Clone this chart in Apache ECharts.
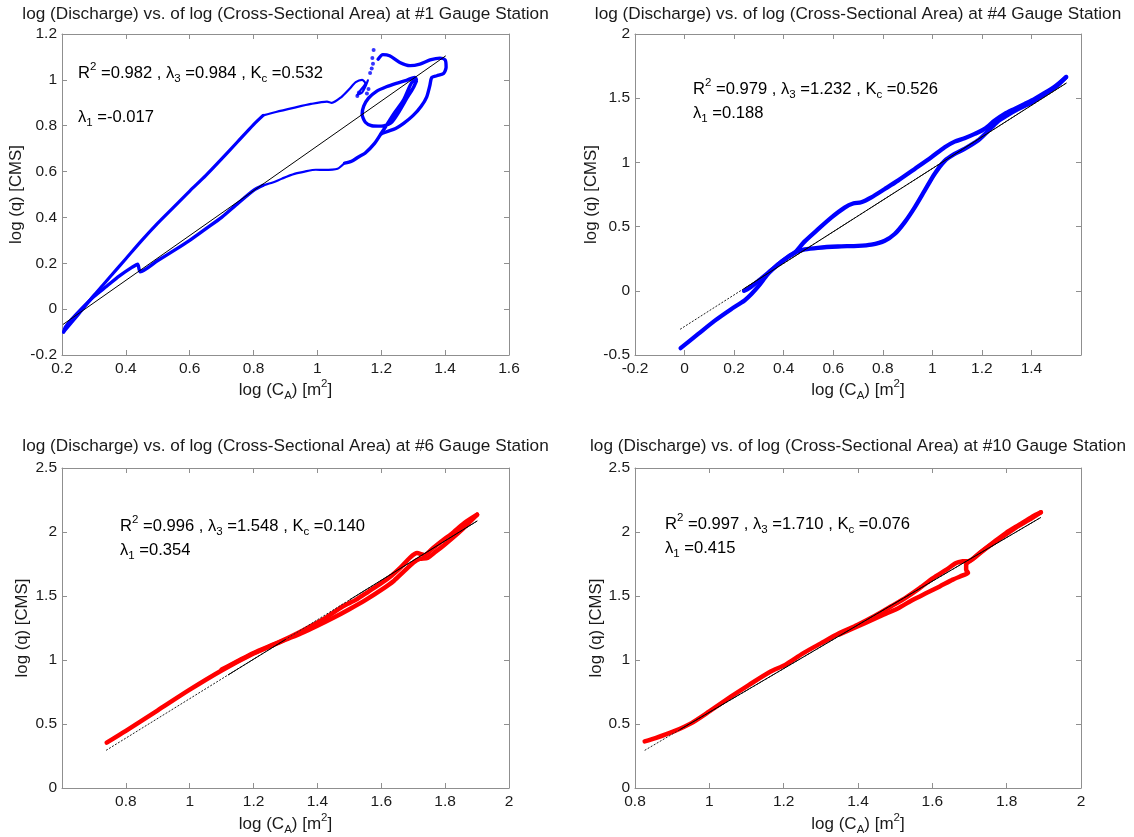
<!DOCTYPE html>
<html><head><meta charset="utf-8">
<script src="https://cdn.jsdelivr.net/npm/echarts@6/dist/echarts.min.js"></script>
<style>html,body{margin:0;padding:0;background:#fff}#c{width:1134px;height:837px}</style>
</head><body><div id="c"></div>
<script>
// ---------- titles ----------
const panelTitles = [
  'log (Discharge) vs. of log (Cross-Sectional Area) at #1 Gauge Station',
  'log (Discharge) vs. of log (Cross-Sectional Area) at #4 Gauge Station',
  'log (Discharge) vs. of log (Cross-Sectional Area) at #6 Gauge Station',
  'log (Discharge) vs. of log (Cross-Sectional Area) at #10 Gauge Station'
];
// statistics text per panel: [R2, lambda3, Kc, lambda1]
const stats1 = ['0.982', '0.984', '0.532', '-0.017'];
const stats4 = ['0.979', '1.232', '0.526', '0.188'];
const stats6 = ['0.996', '1.548', '0.140', '0.354'];
const stats10 = ['0.997', '1.710', '0.076', '0.415'];

// axis ranges [min, max, interval]
const xRange1 = [0.2, 1.6, 0.2],  yRange1 = [-0.2, 1.2, 0.2];
const xRange4 = [-0.2, 1.6, 0.2], yRange4 = [-0.5, 2, 0.5];
const xRange6 = [0.6, 2, 0.2],    yRange6 = [0, 2.5, 0.5];
const xRange10 = [0.8, 2, 0.2],   yRange10 = [0, 2.5, 0.5];

// ---------- Station #1 (blue) ----------
const st1RisingLow = [[0.205,-0.100],[0.250,-0.025],[0.300,0.060],[0.350,0.140],[0.400,0.220],[0.450,0.300],[0.500,0.375],[0.550,0.445],[0.600,0.515],[0.650,0.582],[0.700,0.655],[0.750,0.730],[0.800,0.805],[0.830,0.845]];
const st1Plateau = [[0.830,0.845],[0.870,0.860],[0.925,0.878],[0.980,0.895],[1.030,0.905],[1.045,0.900],[1.075,0.925],[1.100,0.960],[1.120,0.990],[1.140,1.000],[1.150,0.985],[1.135,0.955],[1.125,0.935],[1.140,0.945],[1.150,0.970],[1.158,0.998]];
const st1Head = [[1.190,1.090],[1.205,1.110],[1.226,1.105],[1.258,1.076],[1.290,1.062],[1.321,1.069],[1.353,1.087],[1.384,1.095],[1.400,1.087],[1.403,1.055],[1.395,1.028],[1.374,1.018],[1.358,1.010],[1.352,0.975],[1.342,0.925],[1.325,0.885],[1.300,0.845],[1.270,0.810],[1.245,0.788],[1.220,0.775],[1.200,0.765]];
const st1Loop = [[1.200,0.765],[1.220,0.810],[1.240,0.854],[1.270,0.913],[1.296,0.990],[1.310,1.000],[1.305,1.011],[1.279,0.998],[1.247,0.985],[1.216,0.970],[1.185,0.950],[1.160,0.920],[1.145,0.885],[1.140,0.850],[1.150,0.815],[1.170,0.800],[1.200,0.798],[1.230,0.812],[1.255,0.860],[1.280,0.920],[1.300,0.965],[1.310,0.995],[1.296,0.990],[1.270,0.913],[1.240,0.854],[1.220,0.810],[1.200,0.767],[1.179,0.723],[1.149,0.680],[1.130,0.665],[1.107,0.645],[1.085,0.637]];
const st1LowerMid = [[1.085,0.637],[1.063,0.612],[1.020,0.607],[0.995,0.608],[0.960,0.600],[0.928,0.590],[0.890,0.570],[0.860,0.552],[0.830,0.540]];
const st1LowerEnd = [[0.830,0.540],[0.800,0.518],[0.750,0.460],[0.700,0.400],[0.650,0.350],[0.600,0.300],[0.550,0.255],[0.500,0.212],[0.445,0.163],[0.437,0.196],[0.420,0.183],[0.380,0.145],[0.340,0.100],[0.300,0.055],[0.260,0.000],[0.230,-0.045],[0.210,-0.080],[0.205,-0.100]];
const st1Dots = [[1.165,1.030],[1.170,1.050],[1.174,1.070],[1.172,1.095],[1.176,1.130],[1.125,0.930],[1.130,0.945],[1.155,0.940],[1.160,0.960]];
const fit1 = [[0.203,-0.067],[1.402,1.105]];

// ---------- Station #4 (blue) ----------
const st4Rising = [[-0.016,-0.447],[0.054,-0.338],[0.121,-0.234],[0.188,-0.143],[0.242,-0.075],[0.270,-0.025],[0.300,0.040],[0.336,0.130],[0.377,0.205],[0.417,0.262],[0.444,0.295],[0.485,0.385],[0.538,0.478],[0.592,0.570],[0.646,0.648],[0.680,0.680],[0.713,0.690],[0.754,0.728],[0.808,0.793],[0.861,0.858],[0.929,0.949],[0.996,1.040],[1.050,1.118],[1.090,1.162],[1.130,1.188],[1.171,1.222],[1.211,1.261],[1.252,1.326],[1.292,1.378],[1.332,1.417],[1.373,1.456],[1.413,1.495],[1.452,1.539],[1.500,1.600],[1.540,1.665]];
const st4Falling = [[1.540,1.665],[1.500,1.590],[1.452,1.530],[1.400,1.465],[1.346,1.415],[1.305,1.370],[1.265,1.320],[1.225,1.245],[1.184,1.170],[1.130,1.105],[1.090,1.066],[1.050,1.012],[1.009,0.910],[0.969,0.780],[0.929,0.650],[0.888,0.533],[0.848,0.442],[0.808,0.390],[0.754,0.360],[0.700,0.350],[0.619,0.345],[0.538,0.335],[0.485,0.322],[0.444,0.297],[0.400,0.240],[0.350,0.160],[0.300,0.080],[0.260,0.020],[0.240,0.000]];
const fit4 = [[-0.018,-0.300],[1.542,1.619]];
const fit4Solid = [[0.240,0.017],[1.542,1.619]];

// ---------- Station #6 (red) ----------
const st6Out = [[0.740,0.355],[0.800,0.447],[0.900,0.607],[1.000,0.768],[1.100,0.918],[1.200,1.050],[1.250,1.105],[1.300,1.158],[1.350,1.210],[1.400,1.268],[1.450,1.330],[1.500,1.397],[1.550,1.468],[1.600,1.548],[1.640,1.620],[1.670,1.690],[1.700,1.760],[1.720,1.790],[1.745,1.798],[1.770,1.845],[1.800,1.905],[1.840,1.990],[1.870,2.060],[1.900,2.135]];
const st6Back = [[1.900,2.135],[1.860,2.070],[1.820,1.985],[1.790,1.930],[1.760,1.870],[1.735,1.820],[1.712,1.835],[1.690,1.800],[1.660,1.722],[1.630,1.655],[1.600,1.600],[1.560,1.535],[1.520,1.470],[1.480,1.420],[1.420,1.320],[1.350,1.225],[1.280,1.140],[1.200,1.055],[1.100,0.925]];
const fit6 = [[0.738,0.294],[1.901,2.087]];
const fit6SolidA = [[1.120,0.883],[1.300,1.160]];
const fit6SolidB = [[1.500,1.469],[1.901,2.087]];

// ---------- Station #10 (red) ----------
const st10Out = [[0.826,0.364],[0.855,0.390],[0.904,0.442],[0.952,0.507],[1.000,0.598],[1.059,0.715],[1.107,0.806],[1.165,0.910],[1.204,0.962],[1.252,1.052],[1.300,1.130],[1.349,1.208],[1.398,1.273],[1.446,1.345],[1.490,1.420],[1.530,1.490],[1.566,1.562],[1.602,1.640],[1.638,1.706],[1.664,1.758],[1.682,1.771],[1.700,1.775],[1.727,1.836],[1.762,1.914],[1.798,1.992],[1.834,2.057],[1.870,2.122],[1.892,2.154]];
const st10Back = [[1.892,2.154],[1.860,2.095],[1.820,2.025],[1.780,1.945],[1.740,1.862],[1.710,1.790],[1.691,1.745],[1.691,1.706],[1.696,1.680],[1.682,1.661],[1.655,1.628],[1.620,1.575],[1.584,1.523],[1.548,1.471],[1.512,1.411],[1.470,1.355],[1.420,1.290],[1.350,1.200]];
const fit10 = [[0.826,0.294],[1.8915,2.113]];
const fit10Solid = [[0.920,0.455],[1.8915,2.113]];

// ---------- layout ----------
const FONT = "'Liberation Sans', Arial, Helvetica, sans-serif";
const FRAME = '#8f8f8f';
const TXT = '#1a1a1a';
const grids = [
  {left: 62,  top: 34,  width: 447, height: 321},
  {left: 635, top: 34,  width: 446, height: 321},
  {left: 62,  top: 468, width: 447, height: 320},
  {left: 635, top: 468, width: 446, height: 320}
];
const xRanges = [xRange1, xRange4, xRange6, xRange10];
const yRanges = [yRange1, yRange4, yRange6, yRange10];
const yNameGaps = [37, 33, 31, 28];
const xNameGaps = [22, 22, 24, 24];
const hideMinX = [false, false, true, false];
const hideMaxX = [false, true, false, false];

function mkRich(fs) {
  return {
    n:   {fontSize: fs, fontFamily: FONT, color: TXT, lineHeight: 24, verticalAlign: 'middle'},
    sup: {fontSize: 11.5, fontFamily: FONT, color: TXT, lineHeight: 11, verticalAlign: 'top'},
    sub: {fontSize: 11.5, fontFamily: FONT, color: TXT, lineHeight: 11, verticalAlign: 'bottom'}
  };
}
const richAnno = mkRich(16.6);
const richName = mkRich(17);

const xAxes = [], yAxes = [];
grids.forEach((g, i) => {
  const xr = xRanges[i], yr = yRanges[i];
  const common = {
    type: 'value', gridIndex: i, splitLine: {show: false},
    axisLine: {show: true, onZero: false, lineStyle: {color: FRAME, width: 1}},
    axisTick: {show: true, inside: true, length: 5, lineStyle: {color: FRAME}}
  };
  xAxes.push(Object.assign({}, common, {
    position: 'bottom', min: xr[0], max: xr[1], interval: xr[2],
    axisLabel: {color: TXT, fontSize: 15.5, fontFamily: FONT, margin: 6,
                showMinLabel: hideMinX[i] ? false : true, showMaxLabel: hideMaxX[i] ? false : true},
    name: '{n|log (C}{sub|A}{n|) [m}{sup|2}{n|]}', nameLocation: 'middle', nameGap: xNameGaps[i],
    nameTextStyle: {rich: richName}
  }));
  xAxes.push(Object.assign({}, common, {
    position: 'top', min: xr[0], max: xr[1], interval: xr[2], axisLabel: {show: false}
  }));
  yAxes.push(Object.assign({}, common, {
    position: 'left', min: yr[0], max: yr[1], interval: yr[2],
    axisLabel: {color: TXT, fontSize: 15.5, fontFamily: FONT, margin: 5},
    name: 'log (q) [CMS]', nameLocation: 'middle', nameGap: yNameGaps[i],
    nameTextStyle: {fontSize: 16.8, fontFamily: FONT, color: TXT}
  }));
  yAxes.push(Object.assign({}, common, {
    position: 'right', min: yr[0], max: yr[1], interval: yr[2], axisLabel: {show: false}
  }));
});

const titleCenters = [[285.5, 6], [858, 6], [285.5, 438], [858, 438]];
const titles = panelTitles.map((t, i) => ({
  text: t, left: titleCenters[i][0], top: titleCenters[i][1], textAlign: 'center', padding: 0,
  textStyle: {fontSize: 17.2, fontWeight: 'normal', fontFamily: FONT, color: TXT}
}));

function curve(gi, data, color, width) {
  return {type: 'line', xAxisIndex: 2 * gi, yAxisIndex: 2 * gi, data: data, showSymbol: false,
          smooth: 0.25, silent: true, z: 2, animation: false,
          lineStyle: {color: color, width: width, cap: 'round', join: 'round'}};
}
function fitLine(gi, data, dotted) {
  return {type: 'line', xAxisIndex: 2 * gi, yAxisIndex: 2 * gi, data: data, showSymbol: false,
          silent: true, z: 3, animation: false,
          lineStyle: dotted ? {color: '#222', width: 1, type: [2, 1.5]} : {color: '#000', width: 1}};
}
const BLUE = '#0000ff', RED = '#ff0000';
const series = [
  curve(0, st1RisingLow, BLUE, 3.2), curve(0, st1Plateau, BLUE, 2.2), curve(0, st1Head, BLUE, 3.4),
  curve(0, st1Loop, BLUE, 3.4), curve(0, st1LowerMid, BLUE, 2.2), curve(0, st1LowerEnd, BLUE, 3.4),
  {type: 'scatter', xAxisIndex: 0, yAxisIndex: 0, data: st1Dots, symbolSize: 4, silent: true, animation: false,
   itemStyle: {color: BLUE}},
  fitLine(0, fit1, false),
  curve(1, st4Rising, BLUE, 4.3), curve(1, st4Falling, BLUE, 4.3),
  fitLine(1, fit4, true), fitLine(1, fit4Solid, false),
  curve(2, st6Out, RED, 4.5), curve(2, st6Back, RED, 4.5),
  fitLine(2, fit6, true), fitLine(2, fit6SolidA, false), fitLine(2, fit6SolidB, false),
  curve(3, st10Out, RED, 4.5), curve(3, st10Back, RED, 4.5),
  fitLine(3, fit10, true), fitLine(3, fit10Solid, false)
];

function statText(s, x, y1, y2) {
  return [
    {type: 'text', x: x, y: y1, silent: true, style: {
      text: '{n|R}{sup|2}{n| =' + s[0] + ' , λ}{sub|3}{n| =' + s[1] + ' , K}{sub|c}{n| =' + s[2] + '}',
      rich: richAnno, verticalAlign: 'middle', align: 'left'}},
    {type: 'text', x: x, y: y2, silent: true, style: {
      text: '{n|λ}{sub|1}{n| =' + s[3] + '}', rich: richAnno, verticalAlign: 'middle', align: 'left'}}
  ];
}
const graphics = [].concat(
  statText(stats1, 78, 73, 117),
  statText(stats4, 693, 89, 113),
  statText(stats6, 120, 526, 550),
  statText(stats10, 665, 524, 548)
);

const chart = echarts.init(document.getElementById('c'), null, {renderer: 'canvas'});
chart.setOption({
  backgroundColor: '#ffffff',
  animation: false,
  title: titles,
  grid: grids,
  xAxis: xAxes,
  yAxis: yAxes,
  series: series,
  graphic: graphics
});
</script>
</body></html>
